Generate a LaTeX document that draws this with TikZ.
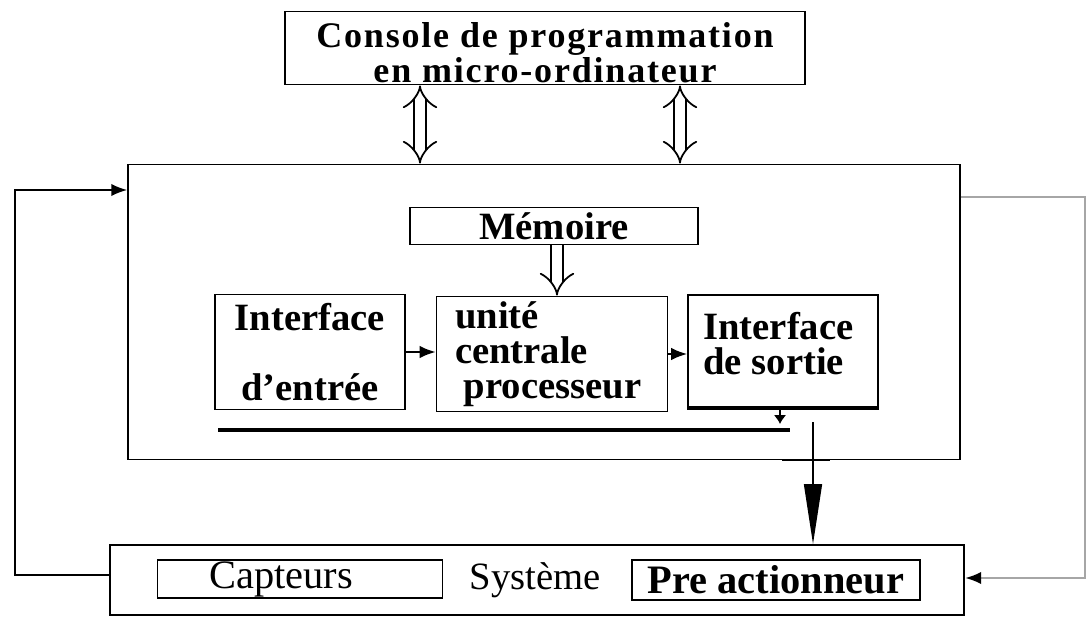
\documentclass[tikz,border=0pt]{standalone}
\usepackage{fontspec}
\setmainfont{Liberation Serif}
\newfontfamily\espace[LetterSpace=5]{Liberation Serif}
\usetikzlibrary{arrows.meta}

\tikzset{
  bloc/.style={draw, line width=1.1pt, inner sep=0pt, font=\bfseries\fontsize{22}{20}\selectfont},
  bus/.style={double, double distance=6pt, line width=1pt, {Implies}-{Implies}},
  busbas/.style={double, double distance=6pt, line width=1pt, -{Implies}},
  fleche/.style={line width=0.9pt, -{Latex[length=9pt,width=7pt,color=black]}},
}

\begin{document}
\begin{tikzpicture}[x=0.02cm, y=-0.02cm]
\useasboundingbox (0,0) rectangle (1089,625);

% console
\node[bloc, minimum width=10.4cm, minimum height=1.46cm] (console) at (545,48) {};
\node[font=\espace\bfseries\fontsize{20.5}{18.7}\selectfont, align=center, inner sep=0pt] (consoletxt) at (545,53) {Console de programmation\\en micro-ordinateur};

% automate
\node[bloc, minimum width=16.64cm, minimum height=5.9cm] (api) at (544,312) {};
\node[bloc, minimum width=5.76cm, minimum height=0.74cm] (memoire) at (554,226) {Mémoire};
\node[bloc, minimum width=3.8cm, minimum height=2.3cm, align=center] (entree) at (310,352) {Interface\\[20pt]d’entrée};
\node[bloc, minimum width=4.62cm, minimum height=2.3cm, text width=3.88cm, align=left] (ucp) at (552,354) {unité\\centrale\\\hspace*{5pt}processeur};
\node[bloc, minimum width=3.8cm, minimum height=2.24cm] (sortie) at (783,351) {};
\node[font=\bfseries\fontsize{22}{20}\selectfont, anchor=north west, align=left, inner sep=0pt] (sortietxt) at (703,312) {Interface\\de sortie};
\draw[line width=2.5pt] (sortie.south west) -- (sortie.south east);

% systeme
\node[bloc, minimum width=17.1cm, minimum height=1.4cm] (systeme) at (537,580) {};
\node[bloc, font=\fontsize{23}{23}\selectfont, minimum width=5.7cm, minimum height=0.76cm] (capteurs) at (300,579) {Capteurs\hspace*{0.76cm}};
\node[font=\fontsize{22}{22}\selectfont] (systemetxt) at (535,580) {Système};
\node[bloc, font=\bfseries\fontsize{23}{23}\selectfont, minimum width=5.76cm, minimum height=0.8cm] (preact) at (776,580) {Pre actionneur};

% bus
\coordinate (b1) at (420,0);
\coordinate (b2) at (680,0);
\coordinate (b3) at (557,0);
\draw[bus] (console.south -| b1) -- (api.north -| b1);
\draw[bus] (console.south -| b2) -- (api.north -| b2);
\draw[busbas] (memoire.south -| b3) -- (ucp.north -| b3);

% liaisons internes
\draw[fleche] (entree.east) -- (entree.east -| ucp.west);
\draw[fleche] (ucp.east) -- (ucp.east -| sortie.west);
\coordinate (t1) at (780,424);
\draw[line width=0.9pt, -{Latex[length=5pt,width=7pt]}] (sortie.south -| t1) -- (t1);
\coordinate (bl) at (218,430);
\coordinate (br) at (790,430);
\draw[line width=2.5pt] (bl) -- (br);

% commande vers le systeme
\coordinate (s1) at (813,422);
\draw[line width=0.9pt, -{Triangle[length=1.2cm,width=0.36cm]}] (s1) -- (systeme.north -| s1);
\coordinate (c1) at (782,460);
\coordinate (c2) at (830,460);
\draw[line width=1.2pt] (c1) -- (c2);

% retours
\coordinate (g1) at (15,575);
\coordinate (g2) at (15,190);
\draw[fleche] (systeme.west |- g1) -- (g1) -- (g2) -- (api.west |- g2);
\coordinate (d1) at (1085,197);
\coordinate (d2) at (1085,578);
\draw[fleche, gray!70] (api.east |- d1) -- (d1) -- (d2) -- (systeme.east |- d2);

\end{tikzpicture}
\end{document}
